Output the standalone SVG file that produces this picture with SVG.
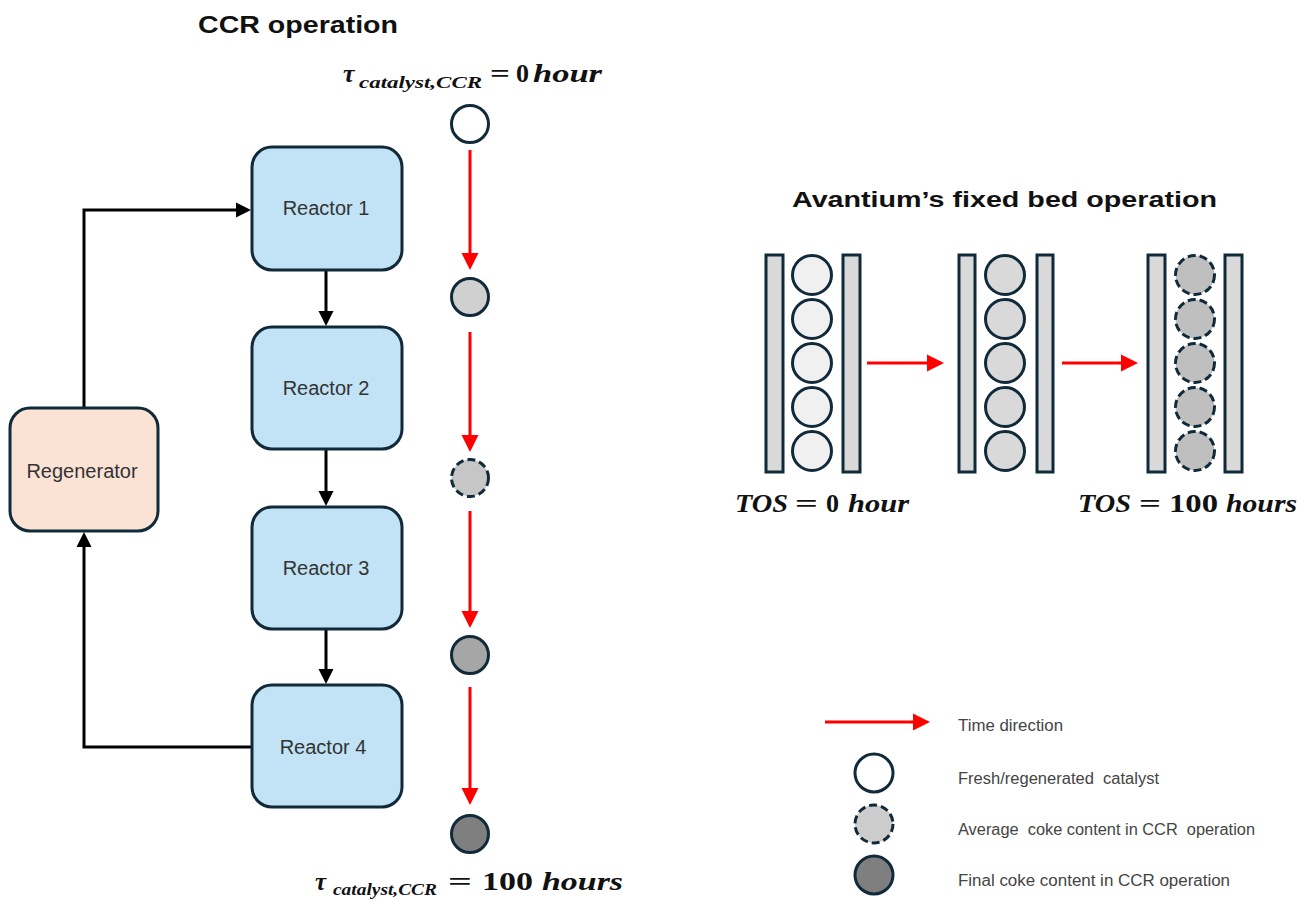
<svg xmlns="http://www.w3.org/2000/svg" width="1308" height="902" viewBox="0 0 1308 902">
<style>
.box{stroke:#112a3a;stroke-width:3}
.reactor{fill:#c1e3f5}
.regen{fill:#fae2d5}
.lbl{font-family:"Liberation Sans",Arial,sans-serif;font-size:20px;fill:#333;text-anchor:middle}
.title{font-family:"Liberation Sans",Arial,sans-serif;font-size:24px;font-weight:bold;fill:#111}
.blk{fill:none;stroke:#000;stroke-width:3}
.red{fill:none;stroke:#ff0000;stroke-width:3}
.cat{stroke:#112a3a;stroke-width:3}
.dash{stroke-dasharray:8 4}
.bar{fill:#d9d9d9;stroke:#112a3a;stroke-width:3}
.m{font-family:"Liberation Serif","Times New Roman",serif;font-weight:bold;font-style:italic;fill:#111}
.mu{font-family:"Liberation Serif","Times New Roman",serif;font-weight:bold;fill:#111}
.leg{font-family:"Liberation Sans",Arial,sans-serif;font-size:16px;fill:#444;white-space:pre}
</style>
<defs>
<marker id="ah" markerUnits="userSpaceOnUse" markerWidth="16" markerHeight="16" refX="4" refY="8" orient="auto">
<path d="M0,0.5 L15,8 L0,15.5 z" fill="#000"/>
</marker>
<marker id="rh" markerUnits="userSpaceOnUse" markerWidth="18" markerHeight="18" refX="4" refY="9" orient="auto">
<path d="M0,0.5 L17,9 L0,17.5 z" fill="#ff0000"/>
</marker>
</defs>
<rect width="1308" height="902" fill="#fff"/>

<text class="title" x="198" y="33" textLength="200" lengthAdjust="spacingAndGlyphs">CCR operation</text>
<text class="title" x="792" y="207" textLength="425" lengthAdjust="spacingAndGlyphs" style="font-size:22px">Avantium’s fixed bed operation</text>

<g id="connectors">
<path class="blk" d="M84,408 V210 H240" marker-end="url(#ah)"/>
<path class="blk" d="M326,270 V315" marker-end="url(#ah)"/>
<path class="blk" d="M326,449 V495" marker-end="url(#ah)"/>
<path class="blk" d="M326,629 V673" marker-end="url(#ah)"/>
<path class="blk" d="M252,747 H84 V543" marker-end="url(#ah)"/>
<path class="red" d="M470,150 V257" marker-end="url(#rh)"/>
<path class="red" d="M470,332 V439" marker-end="url(#rh)"/>
<path class="red" d="M470,511 V615" marker-end="url(#rh)"/>
<path class="red" d="M470,687 V792" marker-end="url(#rh)"/>
<path class="red" d="M867,363 H931" marker-end="url(#rh)"/>
<path class="red" d="M1062,363 H1125" marker-end="url(#rh)"/>
<path class="red" d="M825,722 H917" marker-end="url(#rh)"/>
</g>

<g id="reactor1"><rect class="box reactor" x="252" y="147" width="150" height="123" rx="20"/><text class="lbl" x="326" y="215">Reactor 1</text></g>
<g id="reactor2"><rect class="box reactor" x="252" y="327" width="150" height="122" rx="20"/><text class="lbl" x="326" y="395">Reactor 2</text></g>
<g id="reactor3"><rect class="box reactor" x="252" y="507" width="150" height="122" rx="20"/><text class="lbl" x="326" y="575">Reactor 3</text></g>
<g id="reactor4"><rect class="box reactor" x="252" y="685" width="150" height="122" rx="20"/><text class="lbl" x="323" y="754">Reactor 4</text></g>
<g id="regenerator"><rect class="box regen" x="10" y="408" width="148" height="123" rx="20"/><text class="lbl" x="82" y="478">Regenerator</text></g>

<g id="ccr-catalyst">
<circle class="cat" cx="470" cy="124" r="18.5" fill="#fff"/>
<circle class="cat" cx="470" cy="297" r="18.5" fill="#d0d0d0"/>
<circle class="cat dash" cx="470" cy="478" r="18.5" fill="#c6c6c6"/>
<circle class="cat" cx="470" cy="655" r="18.5" fill="#a6a6a6"/>
<circle class="cat" cx="470" cy="834" r="18.5" fill="#7f7f7f"/>
</g>

<g id="formula-top">
<text class="m" x="343" y="82" style="font-size:26px">τ</text>
<text class="m" x="359" y="88" style="font-size:17px" textLength="123" lengthAdjust="spacingAndGlyphs">catalyst,CCR</text>
<text class="mu" x="490" y="82" style="font-size:26px" textLength="20" lengthAdjust="spacingAndGlyphs">=</text>
<text class="mu" x="516" y="82" style="font-size:26px">0</text>
<text class="m" x="533" y="82" style="font-size:26px" textLength="69" lengthAdjust="spacingAndGlyphs">hour</text>
</g>
<g id="formula-bottom">
<text class="m" x="315" y="890" style="font-size:25px">τ</text>
<text class="m" x="333" y="895" style="font-size:16px" textLength="104" lengthAdjust="spacingAndGlyphs">catalyst,CCR</text>
<text class="mu" x="448" y="890" style="font-size:25px" textLength="24" lengthAdjust="spacingAndGlyphs">=</text>
<text class="mu" x="482" y="890" style="font-size:25px" textLength="51" lengthAdjust="spacingAndGlyphs">100</text>
<text class="m" x="542" y="890" style="font-size:25px" textLength="81" lengthAdjust="spacingAndGlyphs">hours</text>
</g>

<g id="bed-0h">
<rect class="bar" x="766" y="255" width="17" height="217"/>
<rect class="bar" x="843" y="255" width="17" height="217"/>
<circle class="cat" cx="812" cy="275" r="19.5" fill="#f0f0f0"/>
<circle class="cat" cx="812" cy="319" r="19.5" fill="#f0f0f0"/>
<circle class="cat" cx="812" cy="363" r="19.5" fill="#f0f0f0"/>
<circle class="cat" cx="812" cy="407" r="19.5" fill="#f0f0f0"/>
<circle class="cat" cx="812" cy="451" r="19.5" fill="#f0f0f0"/>
</g>
<g id="bed-mid">
<rect class="bar" x="959" y="255" width="16" height="217"/>
<rect class="bar" x="1037" y="255" width="16" height="217"/>
<circle class="cat" cx="1005" cy="275" r="19.5" fill="#d9d9d9"/>
<circle class="cat" cx="1005" cy="319" r="19.5" fill="#d9d9d9"/>
<circle class="cat" cx="1005" cy="363" r="19.5" fill="#d9d9d9"/>
<circle class="cat" cx="1005" cy="407" r="19.5" fill="#d9d9d9"/>
<circle class="cat" cx="1005" cy="451" r="19.5" fill="#d9d9d9"/>
</g>
<g id="bed-100h">
<rect class="bar" x="1148" y="255" width="17" height="217"/>
<rect class="bar" x="1225" y="255" width="17" height="217"/>
<circle class="cat dash" cx="1195" cy="275" r="19.5" fill="#bfbfbf"/>
<circle class="cat dash" cx="1195" cy="319" r="19.5" fill="#bfbfbf"/>
<circle class="cat dash" cx="1195" cy="363" r="19.5" fill="#bfbfbf"/>
<circle class="cat dash" cx="1195" cy="407" r="19.5" fill="#bfbfbf"/>
<circle class="cat dash" cx="1195" cy="451" r="19.5" fill="#bfbfbf"/>
</g>

<g id="tos-labels">
<text class="m" x="735" y="512" style="font-size:26px" textLength="53" lengthAdjust="spacingAndGlyphs">TOS</text>
<text class="mu" x="795" y="512" style="font-size:26px" textLength="23" lengthAdjust="spacingAndGlyphs">=</text>
<text class="mu" x="826" y="512" style="font-size:26px">0</text>
<text class="m" x="848" y="512" style="font-size:26px" textLength="61" lengthAdjust="spacingAndGlyphs">hour</text>
<text class="m" x="1078" y="512" style="font-size:26px" textLength="53" lengthAdjust="spacingAndGlyphs">TOS</text>
<text class="mu" x="1139" y="512" style="font-size:26px" textLength="22" lengthAdjust="spacingAndGlyphs">=</text>
<text class="mu" x="1169" y="512" style="font-size:26px" textLength="49" lengthAdjust="spacingAndGlyphs">100</text>
<text class="m" x="1226" y="512" style="font-size:26px" textLength="71" lengthAdjust="spacingAndGlyphs">hours</text>
</g>

<g id="legend">
<text class="leg" x="958" y="731" textLength="105" lengthAdjust="spacingAndGlyphs">Time direction</text>
<circle class="cat" cx="874" cy="773" r="19" fill="#fff"/>
<text class="leg" x="958" y="784" textLength="201" lengthAdjust="spacingAndGlyphs">Fresh/regenerated  catalyst</text>
<circle class="cat dash" cx="874" cy="824" r="19" fill="#cccccc"/>
<text class="leg" x="958" y="835" textLength="297" lengthAdjust="spacingAndGlyphs">Average  coke content in CCR  operation</text>
<circle class="cat" cx="874" cy="875" r="19" fill="#7f7f7f"/>
<text class="leg" x="958" y="886" textLength="272" lengthAdjust="spacingAndGlyphs">Final coke content in CCR operation</text>
</g>
</svg>
